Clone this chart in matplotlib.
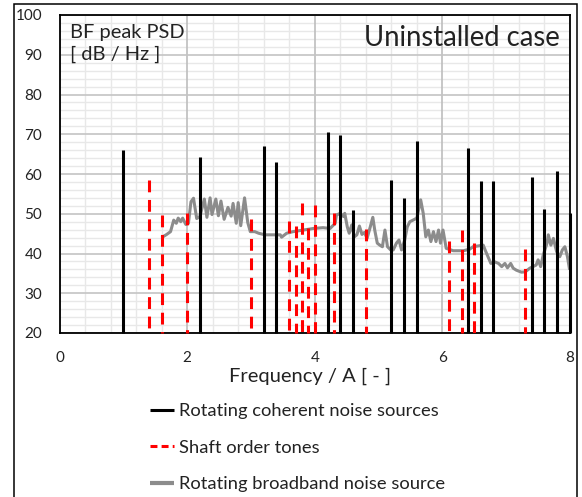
import numpy as np
import matplotlib
matplotlib.use('Agg')
import matplotlib.pyplot as plt
from matplotlib.patches import Rectangle
from matplotlib.lines import Line2D
from matplotlib.ticker import MultipleLocator

plt.rcParams['font.family'] = ['Lato', 'DejaVu Sans']
plt.rcParams['lines.scale_dashes'] = False

# rotating coherent noise sources (black)
coherent_x = [1.0, 2.2, 3.2, 3.4, 4.2, 4.4, 4.6, 5.2, 5.4, 5.6, 6.4, 6.6, 6.8, 7.4, 7.6, 7.8, 8.0]
coherent_db = [66.0, 64.4, 67.1, 63.1, 70.6, 69.8, 51.0, 58.6, 53.9, 68.2, 66.6, 58.2, 58.2, 59.3, 51.1, 60.7, 50.1]

# shaft order tones (red dashed)
shaft_x = [1.4, 1.6, 2.0, 3.0, 3.6, 3.7, 3.8, 3.9, 4.0, 4.3, 4.8, 6.1, 6.3, 6.5, 7.3]
shaft_db = [58.5, 49.7, 50.3, 48.6, 48.2, 47.0, 52.8, 46.3, 52.1, 50.3, 46.2, 43.2, 46.0, 42.6, 41.2]

# rotating broadband noise source (grey curve)
bb_x = [1.62, 1.68, 1.74, 1.79, 1.83, 1.86, 1.90, 1.93, 1.98, 2.02, 2.06, 2.10, 2.15, 2.20,
        2.27, 2.31, 2.36, 2.39, 2.45, 2.49, 2.53, 2.58, 2.64, 2.69, 2.72, 2.77, 2.80, 2.84,
        2.90, 2.95, 2.99, 3.06, 3.12, 3.22, 3.46, 3.48, 3.56, 3.66, 3.82, 3.98, 4.13, 4.24,
        4.32, 4.34, 4.40, 4.45, 4.47, 4.51, 4.54, 4.58, 4.62, 4.66, 4.70, 4.74, 4.78, 4.82,
        4.87, 4.91, 4.94, 4.98, 5.02, 5.06, 5.10, 5.14, 5.19, 5.23, 5.28, 5.32, 5.36, 5.41,
        5.45, 5.49, 5.54, 5.60, 5.66, 5.70, 5.74, 5.78, 5.82, 5.86, 5.90, 5.94, 5.97, 6.01,
        6.06, 6.17, 6.33, 6.43, 6.48, 6.64, 6.68, 6.76, 6.82, 6.88, 6.93, 6.98, 7.02, 7.07,
        7.11, 7.16, 7.24, 7.30, 7.37, 7.47, 7.50, 7.54, 7.58, 7.64, 7.66, 7.70, 7.74, 7.79,
        7.84, 7.88, 7.92, 7.96, 7.99]
bb_db = [44.2, 44.8, 45.5, 48.4, 47.6, 48.9, 48.0, 48.9, 47.3, 47.6, 53.0, 53.9, 48.8, 49.3,
         53.7, 49.1, 54.0, 49.8, 53.7, 49.5, 53.2, 48.6, 51.6, 49.4, 52.6, 47.6, 52.8, 47.0,
         54.0, 47.8, 45.5, 45.5, 45.1, 44.7, 44.7, 44.1, 45.1, 45.5, 45.9, 46.3, 46.5, 46.3,
         47.6, 49.7, 50.1, 49.3, 50.1, 46.7, 45.1, 47.2, 44.2, 44.7, 46.9, 44.8, 45.3, 43.8,
         46.7, 49.1, 45.9, 42.6, 42.1, 41.7, 45.9, 41.7, 40.9, 40.9, 42.6, 43.4, 40.9, 43.4,
         46.7, 48.0, 48.4, 48.9, 53.5, 50.1, 44.2, 45.9, 43.0, 45.5, 43.0, 45.9, 42.6, 45.9,
         41.3, 40.7, 40.7, 41.1, 41.7, 42.1, 40.5, 37.5, 37.9, 37.5, 36.7, 37.5, 36.4, 37.5,
         36.3, 35.8, 35.3, 35.4, 36.3, 37.1, 38.4, 36.7, 39.6, 42.6, 44.7, 42.1, 43.8, 40.5,
         39.2, 40.9, 41.7, 39.2, 36.3]

fig = plt.figure(figsize=(5.82, 4.97), dpi=100)
ax = fig.add_axes([59.5 / 582, 1 - 333 / 497, (570 - 59.5) / 582, (333 - 15) / 497])

ax.set_xlim(0, 8)
ax.set_ylim(20, 100)
ax.xaxis.set_major_locator(MultipleLocator(2))
ax.yaxis.set_major_locator(MultipleLocator(10))
ax.xaxis.set_minor_locator(MultipleLocator(0.4))
ax.yaxis.set_minor_locator(MultipleLocator(2))
# minor grid from the axes, major grid drawn on top so it stays continuous
ax.grid(True, which='minor', color='#e8e8e8', lw=1.0)
ax.set_axisbelow(True)
for xv in ax.get_xticks():
    ax.axvline(xv, color='#bdbdbd', lw=1.2, zorder=0.8)
for yv in ax.get_yticks():
    ax.axhline(yv, color='#c4c4c4', lw=1.2, zorder=0.8)
ax.tick_params(which='both', length=0)
ax.tick_params(axis='y', pad=12.5, labelsize=11, labelcolor='#222222')
ax.tick_params(axis='x', pad=13, labelsize=11, labelcolor='#222222')
for s in ax.spines.values():
    s.set_linewidth(1.3)
    s.set_color('black')

ax.plot(bb_x, bb_db, color='#8c8c8c', lw=2.2, zorder=3)
for x, top in zip(shaft_x, shaft_db):
    ax.plot([x, x], [top, 20], color='#ff0000', lw=2.2, dashes=(8.5, 5.5),
            dash_capstyle='butt', zorder=4, clip_on=False)
for x, top in zip(coherent_x, coherent_db):
    ax.plot([x, x], [20, top], color='black', lw=2.2, solid_capstyle='butt',
            zorder=5, clip_on=False)

ax.set_xlabel('Frequency / A [ - ]', fontsize=14.5, color='#222222')
ax.xaxis.set_label_coords(0.49, -0.108)

fig.text(70 / 582, 1 - 24 / 497, 'BF peak PSD\n[ dB / Hz ]', fontsize=14.4,
         va='top', ha='left', linespacing=1.36, color='#222222')
fig.text(560 / 582, 1 - 25 / 497, 'Uninstalled case', fontsize=19.8,
         va='top', ha='right', color='#222222')

handles = [
    Line2D([], [], color='black', lw=2.2, solid_capstyle='butt'),
    Line2D([], [], color='#ff0000', lw=2.2, dashes=(5, 3), dash_capstyle='butt'),
    Line2D([], [], color='#8c8c8c', lw=3.0, solid_capstyle='butt'),
]
labels = ['Rotating coherent noise sources', 'Shaft order tones', 'Rotating broadband noise source']
fig.legend(handles, labels, loc='upper left', bbox_to_anchor=(150 / 582, 1 - 403 / 497),
           frameon=False, fontsize=13.2, handlelength=1.3, handletextpad=0.3,
           labelspacing=1.12, borderpad=0, borderaxespad=0, labelcolor='#222222')

fig.add_artist(Rectangle((14 / 582, -0.02), (577 - 14) / 582, 1.02 - 4.5 / 497,
                         transform=fig.transFigure, fill=False, ec='black', lw=1.1))

fig.savefig('out.png', dpi=100)
